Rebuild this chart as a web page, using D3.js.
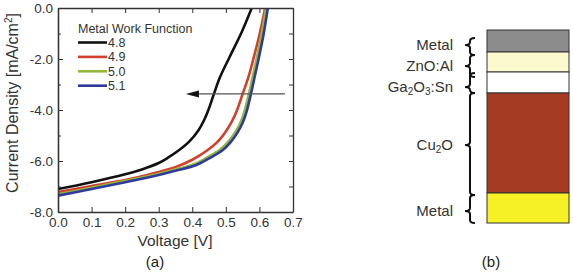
<!DOCTYPE html>
<html>
<head>
<meta charset="utf-8">
<script src="https://cdn.jsdelivr.net/npm/d3@7"></script>
<style>
  body { margin: 0; background: #fff; }
  svg { display: block; }
  text { font-family: "Liberation Sans", Arial, sans-serif; }
</style>
</head>
<body>
<script>
// ---- data ----
var workFunctions = ["4.8", "4.9", "5.0", "5.1"];
var seriesColors = ["#111111", "#d2402c", "#93b83c", "#2e3a9c"];

var v48 = [0, 0.1, 0.2, 0.25, 0.3, 0.33, 0.358, 0.39, 0.418, 0.435, 0.448, 0.465, 0.483, 0.512, 0.547, 0.577];
var j48 = [-7.1, -6.83, -6.52, -6.33, -6.08, -5.85, -5.6, -5.25, -4.8, -4.4, -4.0, -3.35, -2.7, -1.9, -0.95, 0.0];

var v49 = [0, 0.1, 0.2, 0.274, 0.353, 0.4, 0.443, 0.475, 0.502, 0.52, 0.532, 0.55, 0.569, 0.585, 0.6, 0.617];
var j49 = [-7.22, -6.98, -6.75, -6.52, -6.22, -5.95, -5.6, -5.25, -4.8, -4.4, -4.05, -3.37, -2.63, -1.84, -1.06, 0.0];

var v50 = [0, 0.1, 0.2, 0.3, 0.35, 0.405, 0.446, 0.485, 0.51, 0.53, 0.545, 0.556, 0.569, 0.581, 0.594, 0.606, 0.62];
var j50 = [-7.31, -7.05, -6.78, -6.5, -6.33, -6.13, -5.85, -5.53, -5.2, -4.83, -4.45, -4.02, -3.35, -2.63, -1.84, -1.06, 0.0];

var v51 = [0, 0.1, 0.2, 0.3, 0.35, 0.408, 0.45, 0.49, 0.515, 0.535, 0.55, 0.562, 0.575, 0.587, 0.6, 0.612, 0.625];
var j51 = [-7.36, -7.1, -6.83, -6.55, -6.38, -6.18, -5.9, -5.58, -5.25, -4.88, -4.5, -4.05, -3.35, -2.63, -1.84, -1.06, 0.0];

var xTicks = [0, 0.1, 0.2, 0.3, 0.4, 0.5, 0.6, 0.7];
var yTicks = [0, -2, -4, -6, -8];
var yMinor = [-1, -3, -5, -7];
var arrowV = [0.676, 0.381];
var arrowJ = -3.37;

// device stack (panel b), thicknesses in arbitrary units, top to bottom
var layerNames = ["Metal", "ZnO:Al", "Ga2O3:Sn", "Cu2O", "Metal"];
var layerThick = [22, 20, 21, 100, 30];
var layerColors = ["#8c8c8c", "#fcf9cf", "#ffffff", "#a53a22", "#f6f124"];
var braceFrom = [8, 25, 43, 63, 165];
var braceTo = [25, 47, 63, 165, 193];
var braceTip = [15, 36, 57, 115, 181];

var svg = d3.select("body").append("svg")
  .attr("width", 573)
  .attr("height", 273);

// ---- panel (a) ----
var plotL = 58, plotR = 293, plotT = 8, plotB = 212;
var x = d3.scaleLinear().domain([0, 0.7]).range([plotL, plotR]);
var y = d3.scaleLinear().domain([-8, 0]).range([plotB, plotT]);

svg.append("defs").append("clipPath").attr("id", "plotclip")
  .append("rect").attr("x", plotL).attr("y", plotT)
  .attr("width", plotR - plotL).attr("height", plotB - plotT);

var series = [[v48, j48], [v49, j49], [v50, j50], [v51, j51]];
var line = d3.line()
  .x(function(d){ return x(d[0]); })
  .y(function(d){ return y(d[1]); })
  .curve(d3.curveCatmullRom.alpha(0.5));

// draw in order so blue ends up on top of green like the picture
var g = svg.append("g").attr("clip-path", "url(#plotclip)");
series.forEach(function(s, i){
  var pts = s[0].map(function(v, k){ return [v, s[1][k]]; });
  g.append("path")
    .attr("d", line(pts))
    .attr("fill", "none")
    .attr("stroke", seriesColors[i])
    .attr("stroke-width", 2.6);
});

// arrow
svg.append("line")
  .attr("x1", x(arrowV[0])).attr("x2", x(arrowV[1]) + 10)
  .attr("y1", y(arrowJ)).attr("y2", y(arrowJ))
  .attr("stroke", "#555").attr("stroke-width", 1.3);
var ax = x(arrowV[1]), ay = y(arrowJ);
svg.append("path")
  .attr("d", "M" + ax + "," + ay + "L" + (ax + 13) + "," + (ay - 3.5) + "L" + (ax + 13) + "," + (ay + 3.5) + "Z")
  .attr("fill", "#111");

// axes
var axColor = "#333";
var xb = svg.append("g").attr("transform", "translate(0," + plotB + ")")
  .call(d3.axisBottom(x).tickValues(xTicks).tickFormat(d3.format(".1f"))
    .tickSizeInner(-5).tickSizeOuter(0).tickPadding(5));
var xt = svg.append("g").attr("transform", "translate(0," + plotT + ")")
  .call(d3.axisTop(x).tickValues(xTicks).tickFormat("")
    .tickSizeInner(-5).tickSizeOuter(0));
var yl = svg.append("g").attr("transform", "translate(" + plotL + ",0)")
  .call(d3.axisLeft(y).tickValues(yTicks).tickFormat(d3.format(".1f"))
    .tickSizeInner(-5).tickSizeOuter(0).tickPadding(5));
var yl2 = svg.append("g").attr("transform", "translate(" + plotL + ",0)")
  .call(d3.axisLeft(y).tickValues(yMinor).tickFormat("")
    .tickSizeInner(-3).tickSizeOuter(0));
var yr = svg.append("g").attr("transform", "translate(" + plotR + ",0)")
  .call(d3.axisRight(y).tickValues(yTicks.concat(yMinor)).tickFormat("")
    .tickSizeInner(-4).tickSizeOuter(0));

[xb, xt, yl, yl2, yr].forEach(function(a){
  a.selectAll("path.domain").attr("stroke", axColor).attr("stroke-width", 1.3);
  a.selectAll("line").attr("stroke", axColor);
  a.selectAll("text").attr("font-size", 13.5).attr("fill", "#333")
    .attr("font-family", "Liberation Sans, Arial, sans-serif");
});
yl.selectAll("text").text(function(d){ return d3.format(".1f")(d).replace("−", "-"); });

// axis titles
svg.append("text")
  .attr("x", 175).attr("y", 246)
  .attr("text-anchor", "middle")
  .attr("font-size", 15.5).attr("fill", "#333")
  .text("Voltage [V]");

var yt = svg.append("text")
  .attr("transform", "translate(18,103) rotate(-90)")
  .attr("text-anchor", "middle")
  .attr("font-size", 16).attr("fill", "#333");
yt.append("tspan").text("Current Density [mA/cm");
yt.append("tspan").attr("dy", -6).attr("font-size", 10).text("2");
yt.append("tspan").attr("dy", 6).text("]");

// legend
svg.append("text").attr("x", 78).attr("y", 33)
  .attr("font-size", 12.5).attr("fill", "#333")
  .text("Metal Work Function");
workFunctions.forEach(function(w, i){
  var ly = 42.5 + i * 14.4;
  svg.append("line")
    .attr("x1", 78).attr("x2", 107).attr("y1", ly).attr("y2", ly)
    .attr("stroke", seriesColors[i]).attr("stroke-width", 2.6);
  svg.append("text").attr("x", 108).attr("y", ly + 4.5)
    .attr("font-size", 12.5).attr("fill", "#333").text(w);
});

svg.append("text").attr("x", 155).attr("y", 267)
  .attr("text-anchor", "middle")
  .attr("font-family", "Liberation Serif, serif")
  .attr("font-size", 15).attr("fill", "#222")
  .text("(a)");

// ---- panel (b) ----
var total = d3.sum(layerThick);
var sy = d3.scaleLinear().domain([0, total]).range([30, 223]);
var stackX = 487, stackW = 82;
var acc = 0;
layerThick.forEach(function(t, i){
  svg.append("rect")
    .attr("x", stackX).attr("y", sy(acc))
    .attr("width", stackW).attr("height", sy(acc + t) - sy(acc))
    .attr("fill", layerColors[i])
    .attr("stroke", "#333").attr("stroke-width", 1);
  acc += t;
});

function brace(y0, y1, yt){
  var xs = 470, xe = 475, xtip = 465, r = 3;
  return "M" + xe + "," + y0 +
    "Q" + xs + "," + y0 + " " + xs + "," + (y0 + r) +
    "L" + xs + "," + (yt - r) +
    "Q" + xs + "," + yt + " " + xtip + "," + yt +
    "Q" + xs + "," + yt + " " + xs + "," + (yt + r) +
    "L" + xs + "," + (y1 - r) +
    "Q" + xs + "," + y1 + " " + xe + "," + y1;
}

layerNames.forEach(function(n, i){
  svg.append("path")
    .attr("d", brace(sy(braceFrom[i]), sy(braceTo[i]), sy(braceTip[i])))
    .attr("fill", "none").attr("stroke", "#111").attr("stroke-width", 2);

  var t = svg.append("text")
    .attr("x", 453).attr("y", sy(braceTip[i]) + 5)
    .attr("text-anchor", "end")
    .attr("font-family", "Open Sans, sans-serif")
    .attr("font-size", 15).attr("fill", "#333");
  // subscripts in the formulas
  var parts = n.match(/[A-Za-z:]+|\d/g);
  parts.forEach(function(p){
    if (/\d/.test(p)) {
      t.append("tspan").attr("font-size", 10).attr("dy", 3).text(p);
    } else {
      var ts = t.append("tspan").text(p);
      if (t.node().childNodes.length > 1) ts.attr("dy", -3);
    }
  });
});

svg.append("text").attr("x", 491).attr("y", 267)
  .attr("text-anchor", "middle")
  .attr("font-family", "Liberation Serif, serif")
  .attr("font-size", 15).attr("fill", "#222")
  .text("(b)");
</script>
</body>
</html>
